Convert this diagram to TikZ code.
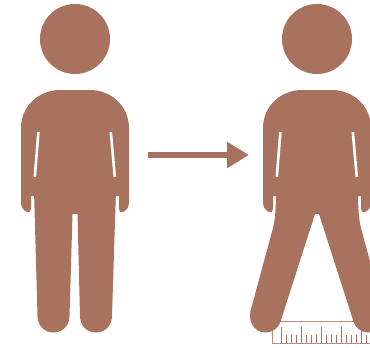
\documentclass[tikz,border=0pt]{standalone}
\usetikzlibrary{arrows.meta}
\definecolor{skin}{HTML}{A8725E}
\tikzset{
figure/.style={fill=skin, draw=none},
slit/.style={draw=white, line width=2.6pt},
rulerline/.style={draw=skin, line width=1pt},
shift arrow/.style={draw=skin, line width=6.5pt, -{Triangle[length=22pt,width=25pt]}},
}
% head, trunk and arms, shared by both figures
\newcommand{\upperbody}{
\fill[figure] (75,39) circle (35);
\fill[figure] (34,196) -- (31,196) -- (31,207) .. controls (31,212) and (29,213) .. (27,212)
 .. controls (23,210) and (21,207) .. (21,202) -- (21,128)
 .. controls (21,106) and (39,90) .. (60,90) -- (90,90)
 .. controls (111,90) and (129,106) .. (129,128) -- (129,202)
 .. controls (129,207) and (127,210) .. (123,212) .. controls (121,213) and (119,212) .. (119,207)
 -- (119,196) -- (116,196) -- cycle;
\draw[slit] (38.4,132) -- (34.8,177);
\draw[slit] (110.8,132) -- (114.8,177);
}
\begin{document}
\begin{tikzpicture}[x=1pt,y=-1pt]
\useasboundingbox (0,0) rectangle (370,348);

\coordinate (from) at (147.5,155);
\coordinate (to) at (249,155);

% before
\upperbody
\fill[figure] (34,190) -- (37.5,316) .. controls (37.5,325) and (44,332.5) .. (53.5,332.5)
 .. controls (63,332.5) and (69.5,325) .. (69.5,316) -- (72.5,214) -- (77.5,214)
 -- (80,316) .. controls (80,325) and (86.5,332.5) .. (96,332.5)
 .. controls (105.5,332.5) and (112,325) .. (112,316) -- (116,190) -- cycle;

\draw[shift arrow] (from) -- (to);

% ruler goes under the feet
\draw[rulerline, opacity=.8] (272,321) rectangle (371,343.5);
\foreach \x in {281,301,...,361} \draw[rulerline] (\x,343) -- (\x,327);
\foreach \x in {286,291,296,306,311,316,326,331,336,346,351,356,366} \draw[rulerline] (\x,343) -- (\x,335);

% after
\begin{scope}[xshift=242pt]
\upperbody
\fill[figure] (34,190) .. controls (34,210) and (33,220) .. (31,228) -- (8.5,311)
 .. controls (6,322) and (13,332.5) .. (23,332.5) .. controls (31,332.5) and (37,328) .. (39,320)
 -- (73,214) -- (77,214) -- (111,320) .. controls (113,328) and (119,332.5) .. (127,332.5)
 .. controls (137,332.5) and (144,322) .. (141.5,311) -- (119,228) .. controls (117,220) and (116,210) .. (116,190) -- cycle;
\end{scope}
\end{tikzpicture}
\end{document}
